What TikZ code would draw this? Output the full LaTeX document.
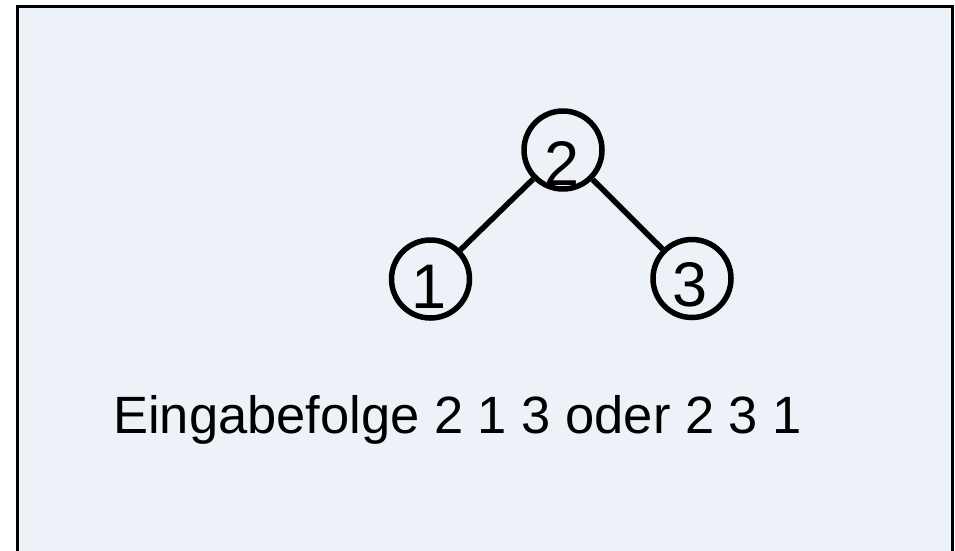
\documentclass[tikz,border=0pt]{standalone}
\usepackage{fontspec}
\setmainfont{Liberation Sans}
\definecolor{bgfill}{RGB}{237,242,248}
\begin{document}
\begin{tikzpicture}[x=1pt,y=-1pt,
  treenode/.style={circle,draw=black,line width=5.5pt,minimum size=78pt,inner sep=0pt},
  digit/.style={anchor=base,inner sep=0pt,font=\fontsize{63}{72}\selectfont},
  edge/.style={line width=5.5pt,black}]
\useasboundingbox (0,0) rectangle (955,550);
\clip (0,0) rectangle (955,550);
\draw[fill=bgfill,line width=3pt] (17.5,6.5) rectangle (952,570);
\node[treenode] (n2) at (563,150) {};
\node[treenode] (n1) at (430.5,279) {};
\node[treenode] (n3) at (692,278.5) {};
\draw[edge] (n2) -- (n1);
\draw[edge] (n2) -- (n3);
\node[digit] (d2) at (562,185) {2};
\node[digit] (d1) at (429,308) {1};
\node[digit] (d3) at (690,306) {3};
\node[anchor=base west,inner sep=0pt,font=\fontsize{52.5}{62}\selectfont] (caption) at (113,433) {Eingabefolge 2 1 3 oder 2 3 1};
\end{tikzpicture}
\end{document}
